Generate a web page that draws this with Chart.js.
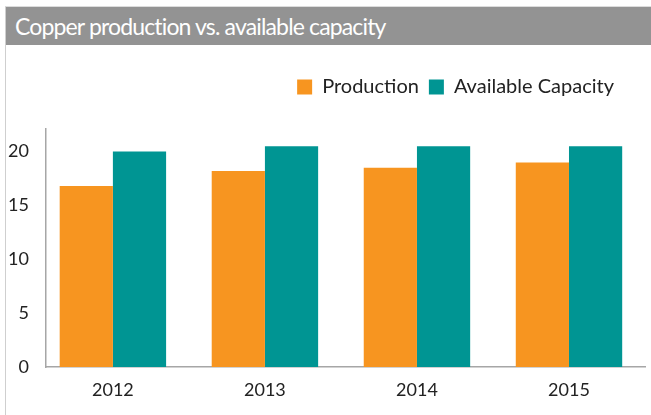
<!DOCTYPE html>
<html>
<head>
<meta charset="utf-8">
<script src="https://cdn.jsdelivr.net/npm/chart.js@4/dist/chart.umd.min.js"></script>
<style>
  body { margin: 0; background: #fff; }
  #frame {
    position: absolute; left: 5px; top: 6px; width: 646px; height: 409px;
    border-left: 1px solid #cfcfcf; border-top: 1px solid #dcdcdc;
  }
  #header {
    height: 38px; background: #939393; color: #fff;
    font-family: Lato, sans-serif; font-size: 23px; letter-spacing: -0.85px;
    line-height: 38px; padding-left: 9px; white-space: nowrap;
  }
  #chartBox { position: relative; width: 645px; height: 370px; }
</style>
</head>
<body>
<div id="frame">
  <div id="header">Copper production vs. available capacity</div>
  <div id="chartBox"><canvas id="myChart"></canvas></div>
</div>
<script>
const years = ['2012', '2013', '2014', '2015'];
const production = [16.8, 18.2, 18.5, 19.0];
const capacity = [20.0, 20.5, 20.5, 20.5];
const yTicks = [0, 5, 10, 15, 20];

const orange = '#F79520';
const teal = '#009593';
const axisGrey = '#a6a6a6';
const textColor = '#222';

// nudge the legend left and leave room under it
const legendTweak = {
  id: 'legendTweak',
  beforeInit(chart) {
    const fit = chart.legend.fit;
    chart.legend.fit = function () {
      fit.bind(chart.legend)();
      this.height += 22;
    };
  },
  afterLayout(chart) {
    chart.legend.left -= 21;
    chart.legend.right -= 21;
  }
};

const ctx = document.getElementById('myChart').getContext('2d');

new Chart(ctx, {
  type: 'bar',
  data: {
    datasets: [
      {
        label: 'Production',
        data: years.map((y, i) => ({ x: i, y: production[i] })),
        backgroundColor: orange
      },
      {
        label: 'Available Capacity',
        data: years.map((y, i) => ({ x: i, y: capacity[i] })),
        backgroundColor: teal
      }
    ]
  },
  options: {
    responsive: true,
    maintainAspectRatio: false,
    animation: false,
    layout: { padding: { top: 22, right: 6, left: 0, bottom: 0 } },
    categoryPercentage: 0.7,
    barPercentage: 1.0,
    plugins: {
      tooltip: { enabled: false },
      legend: {
        position: 'top',
        align: 'end',
        labels: {
          boxWidth: 15,
          boxHeight: 15,
          padding: 10,
          color: textColor,
          font: { family: 'Lato', size: 20 }
        }
      }
    },
    scales: {
      x: {
        type: 'linear',
        offset: false,
        min: -0.44,
        max: 3.5,
        grid: { display: false },
        border: { display: true, color: axisGrey, width: 1.5 },
        afterBuildTicks: axis => { axis.ticks = years.map((y, i) => ({ value: i })); },
        afterFit: axis => { axis.height = 48; },
        ticks: {
          padding: 4,
          color: textColor,
          font: { family: 'Lato', size: 18 },
          maxRotation: 0,
          callback: v => years[v]
        }
      },
      y: {
        min: 0,
        max: 22.1,
        grid: { display: false },
        border: { display: true, color: axisGrey, width: 1.5 },
        afterBuildTicks: axis => { axis.ticks = yTicks.map(v => ({ value: v })); },
        afterFit: axis => { axis.width = 40; },
        ticks: {
          padding: 9,
          color: textColor,
          font: { family: 'Lato', size: 18 }
        }
      }
    }
  },
  plugins: [legendTweak]
});
</script>
</body>
</html>
